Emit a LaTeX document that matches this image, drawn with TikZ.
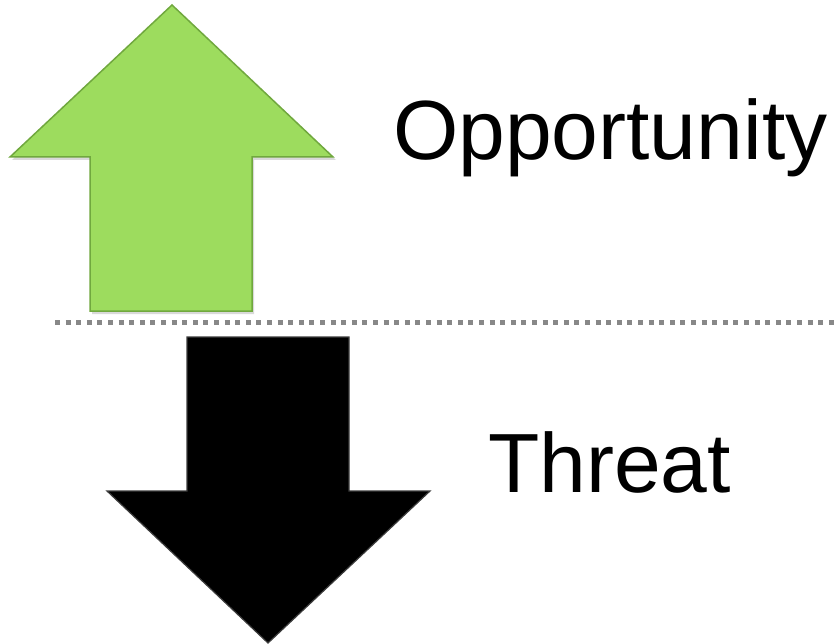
\documentclass[tikz,border=0pt]{standalone}
\usepackage{fontspec}
\setmainfont{Liberation Sans}
\definecolor{oppgreen}{RGB}{157,220,94}
\definecolor{oppedge}{RGB}{112,168,62}
\definecolor{threatedge}{RGB}{60,60,60}
\definecolor{sepgray}{RGB}{136,136,136}
\begin{document}
\begin{tikzpicture}[
  x=1pt, y=-1pt,
  up/.style={fill=oppgreen, draw=oppedge, line width=1.5pt, line join=miter},    % opportunity arrow
  down/.style={fill=black, draw=threatedge, line width=1.2pt, line join=miter},  % threat arrow
  shade/.style={fill=black, opacity=0.15},                                       % soft drop shadow
  sep/.style={draw=sepgray, line width=5pt, dash pattern=on 5pt off 5.6pt},     % dotted divider
  lab/.style={anchor=base west, inner sep=0pt, font=\fontsize{84}{84}\selectfont}
]
\useasboundingbox (0,0) rectangle (837,644);

% Up arrow
\fill[shade] (174,8) -- (336,160) -- (254,160) -- (254,314) -- (92,314) -- (92,160) -- (12,160) -- cycle;
\draw[up] (172,5) -- (333,157) -- (252,157) -- (252,311) -- (90,311) -- (90,157) -- (10,157) -- cycle;

% Divider
\coordinate (s1) at (55,322);
\coordinate (s2) at (837,322);
\draw[sep] (s1) -- (s2);

% Down arrow
\draw[down] (187,337) -- (349,337) -- (349,491) -- (430,491) -- (268,643) -- (107,491) -- (187,491) -- cycle;

% Labels
\node[lab] (opp) at (393,160) {Opportunity};
\node[lab] (thr) at (488,492) {Threat};

\end{tikzpicture}
\end{document}
